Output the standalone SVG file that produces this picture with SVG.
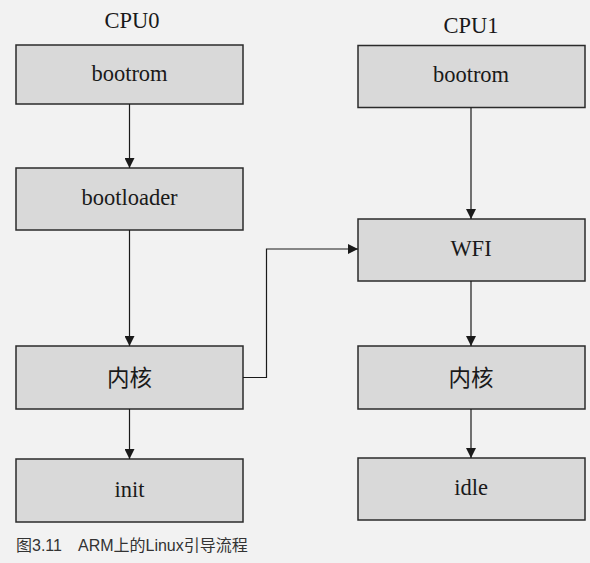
<svg xmlns="http://www.w3.org/2000/svg" width="590" height="563" viewBox="0 0 590 563">
<style>
.box{fill:#d9d9d9;stroke:#2b2b2b;stroke-width:1.5}
.t{font-family:"Liberation Serif","Noto Sans CJK SC",serif;font-size:22.5px;fill:#1a1a1a;text-anchor:middle}
.c{fill:none;stroke:#1a1a1a;stroke-width:1.2}
.cap{font-family:"Liberation Sans","Noto Sans CJK SC",sans-serif;font-size:16px;fill:#333}
</style>
<defs>
<marker id="ah" viewBox="0 0 10 10" refX="10" refY="5" markerWidth="10" markerHeight="10" markerUnits="userSpaceOnUse" orient="auto">
<path d="M0,0 L10,5 L0,10 z" fill="#1a1a1a"/>
</marker>
</defs>
<rect width="590" height="563" fill="#f2f2f2"/>
<text class="t" x="132" y="28">CPU0</text>
<text class="t" x="471" y="33">CPU1</text>
<g id="cpu0-bootrom"><rect class="box" x="16" y="45" width="227" height="59"/><text class="t" x="129.5" y="81">bootrom</text></g>
<g id="cpu0-bootloader"><rect class="box" x="16" y="168" width="227" height="62"/><text class="t" x="129.5" y="205">bootloader</text></g>
<g id="cpu0-kernel"><rect class="box" x="16" y="346" width="227" height="63"/><text class="t" x="129.5" y="386">内核</text></g>
<g id="cpu0-init"><rect class="box" x="16" y="459" width="227" height="63"/><text class="t" x="129.5" y="497">init</text></g>
<g id="cpu1-bootrom"><rect class="box" x="358" y="45.5" width="227" height="62"/><text class="t" x="471" y="82">bootrom</text></g>
<g id="cpu1-wfi"><rect class="box" x="358" y="219" width="227" height="62"/><text class="t" x="471" y="256">WFI</text></g>
<g id="cpu1-kernel"><rect class="box" x="358" y="346" width="227" height="63"/><text class="t" x="471" y="386">内核</text></g>
<g id="cpu1-idle"><rect class="box" x="358" y="458" width="227" height="62"/><text class="t" x="471" y="495">idle</text></g>
<g id="connectors">
<path class="c" d="M129.5,104 V168" marker-end="url(#ah)"/>
<path class="c" d="M129.5,230 V346" marker-end="url(#ah)"/>
<path class="c" d="M129.5,409 V459" marker-end="url(#ah)"/>
<path class="c" d="M471,107.5 V219" marker-end="url(#ah)"/>
<path class="c" d="M471,281 V346" marker-end="url(#ah)"/>
<path class="c" d="M471,409 V458" marker-end="url(#ah)"/>
<path class="c" d="M243,377.5 H266.5 V249 H358" marker-end="url(#ah)"/>
</g>
<text class="cap" x="16" y="551">图3.11　ARM上的Linux引导流程</text>
</svg>
